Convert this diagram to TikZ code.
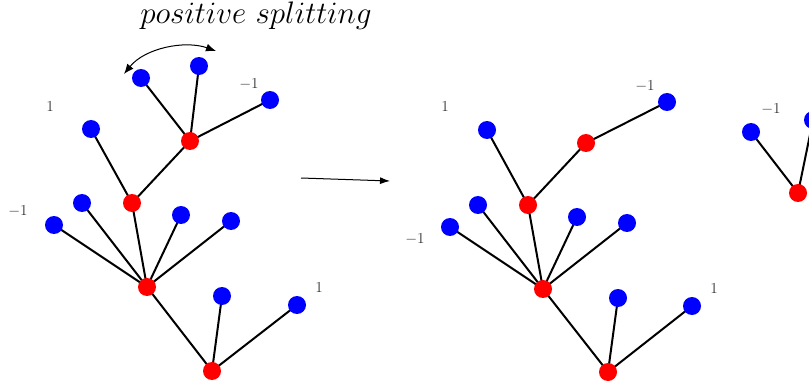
\documentclass[tikz,border=0pt]{standalone}
\usetikzlibrary{arrows.meta}
\pgfdeclarelayer{bg}
\pgfsetlayers{bg,main}
\begin{document}
\begin{tikzpicture}[x=1pt,y=-1pt,
  bn/.style={circle,fill=blue,inner sep=0pt,minimum size=18pt},
  rn/.style={circle,fill=red,inner sep=0pt,minimum size=18pt},
  edge/.style={line width=2pt,black},
  lab/.style={text=black!80,font=\fontsize{12}{14}\selectfont,inner sep=0pt,scale=1.27}]
\useasboundingbox (0,0) rectangle (809,385);
\clip (0,0) rectangle (809,385);
% title
\node[anchor=base,inner sep=0pt,font=\fontsize{24.88}{30}\selectfont,scale=1.25] (title) at (256,24) {$positive\ splitting$};
% left tree
\node[rn] (a1) at (212,371) {};
\node[bn] (a2) at (222,296) {};
\node[bn] (a3) at (297,305) {};
\node[rn] (a4) at (147,287) {};
\node[bn] (a5) at (54,225) {};
\node[bn] (a6) at (82,203) {};
\node[rn] (a7) at (132,203) {};
\node[bn] (a8) at (181,215) {};
\node[bn] (a9) at (231,221) {};
\node[bn] (a10) at (91,129) {};
\node[rn] (a11) at (190,141) {};
\node[bn] (a12) at (141,78) {};
\node[bn] (a13) at (199,66) {};
\node[bn] (a14) at (270,100) {};
\begin{pgfonlayer}{bg}
\draw[edge] (a1.center) -- (a2.center) (a1.center) -- (a3.center) (a1.center) -- (a4.center);
\draw[edge] (a4.center) -- (a5.center) (a4.center) -- (a6.center) (a4.center) -- (a7.center) (a4.center) -- (a8.center) (a4.center) -- (a9.center);
\draw[edge] (a7.center) -- (a10.center) (a7.center) -- (a11.center);
\draw[edge] (a11.center) -- (a12.center) (a11.center) -- (a13.center) (a11.center) -- (a14.center);
\end{pgfonlayer}
\node[lab] (la1) at (50,106) {1};
\node[lab] (la2) at (249,84) {$-1$};
\node[lab] (la3) at (18,211) {$-1$};
\node[lab] (la4) at (319,287) {1};
% curved arrow
\coordinate (c1) at (124,74);
\coordinate (c2) at (216,51);
\draw[line width=1pt,{Latex[length=10pt,width=8pt]}-{Latex[length=10pt,width=8pt]}] (c1) .. controls (145,48) and (185,40) .. (c2);
% middle arrow
\coordinate (m1) at (301,178);
\coordinate (m2) at (390,181);
\draw[line width=1pt,-{Latex[length=10pt,width=7pt]}] (m1) -- (m2);
% middle tree
\node[rn] (b1) at (608,372) {};
\node[bn] (b2) at (618,298) {};
\node[bn] (b3) at (692,306) {};
\node[rn] (b4) at (543,289) {};
\node[bn] (b5) at (450,227) {};
\node[bn] (b6) at (478,205) {};
\node[rn] (b7) at (528,205) {};
\node[bn] (b8) at (577,217) {};
\node[bn] (b9) at (627,223) {};
\node[bn] (b10) at (487,130) {};
\node[rn] (b11) at (586,143) {};
\node[bn] (b12) at (667,102) {};
\begin{pgfonlayer}{bg}
\draw[edge] (b1.center) -- (b2.center) (b1.center) -- (b3.center) (b1.center) -- (b4.center);
\draw[edge] (b4.center) -- (b5.center) (b4.center) -- (b6.center) (b4.center) -- (b7.center) (b4.center) -- (b8.center) (b4.center) -- (b9.center);
\draw[edge] (b7.center) -- (b10.center) (b7.center) -- (b11.center);
\draw[edge] (b11.center) -- (b12.center);
\end{pgfonlayer}
\node[lab] (lb1) at (445,106) {1};
\node[lab] (lb2) at (645,86) {$-1$};
\node[lab] (lb3) at (415,239) {$-1$};
\node[lab] (lb4) at (714,288) {1};
% right partial tree
\node[rn] (c3) at (798,193) {};
\node[bn] (c4) at (751,132) {};
\node[bn] (c5) at (813,120) {};
\begin{pgfonlayer}{bg}
\draw[edge] (c3.center) -- (c4.center) (c3.center) -- (c5.center);
\end{pgfonlayer}
\node[lab] (lc1) at (771,109) {$-1$};
\end{tikzpicture}
\end{document}
